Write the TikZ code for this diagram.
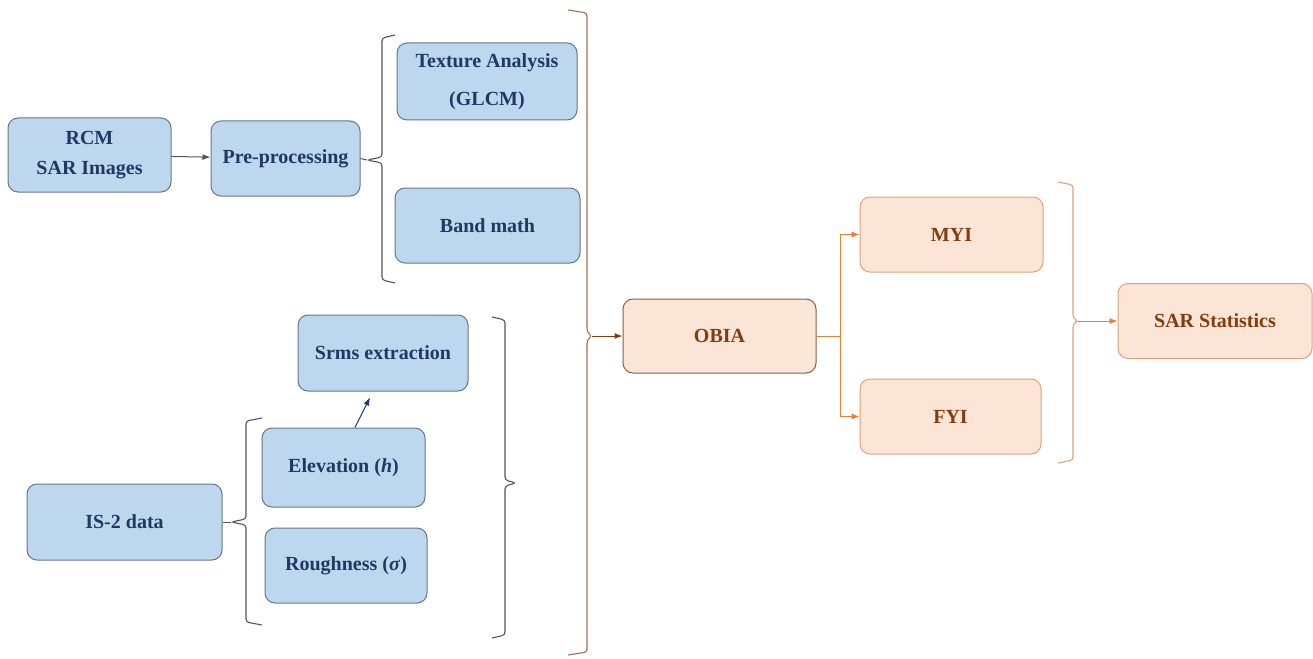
\documentclass[tikz,border=0pt]{standalone}
\usepackage{fontspec}
\setmainfont{Liberation Serif}
\usetikzlibrary{arrows.meta,calc}

\definecolor{boxblue}{HTML}{BDD7EE}
\definecolor{lineblue}{HTML}{66768A}
\definecolor{textblue}{HTML}{1F3864}
\definecolor{boxorange}{HTML}{FBE5D6}
\definecolor{lineorange}{HTML}{DDA47C}
\definecolor{lineobia}{HTML}{8E5F40}
\definecolor{textbrown}{HTML}{843C0C}
\definecolor{arroworange}{HTML}{ED7D31}
\definecolor{bracegray}{HTML}{555555}
\definecolor{bracebrown}{HTML}{A07252}
\definecolor{bracetan}{HTML}{D9A67F}

\begin{document}
\begin{tikzpicture}[x=1pt,y=-1pt,
    >={Latex[length=8pt,width=6pt]},
    bluebox/.style={draw=lineblue,fill=boxblue,rounded corners=10pt,line width=1pt,
        text=textblue,font=\bfseries\fontsize{20}{24}\selectfont,align=center,inner sep=0pt},
    orangebox/.style={draw=lineorange,fill=boxorange,rounded corners=10pt,line width=1pt,
        text=textbrown,font=\bfseries\fontsize{20}{24}\selectfont,align=center,inner sep=0pt},
    brace/.style={line width=1.1pt,rounded corners=3pt}]
    \useasboundingbox (0,0) rectangle (1313,658);

    % SAR branch
    \node[bluebox,minimum width=163pt,minimum height=74pt] (rcm) at (89.5,155) {RCM\\[6pt]SAR Images};
    \node[bluebox,minimum width=149pt,minimum height=75pt] (pre) at (285.5,158.5) {Pre-processing};
    \node[bluebox,minimum width=180pt,minimum height=77pt] (tex) at (487,81.5) {Texture Analysis\\[14pt](GLCM)};
    \node[bluebox,minimum width=185pt,minimum height=75pt] (band) at (487.5,225.5) {Band math};

    % IS-2 branch
    \node[bluebox,minimum width=170pt,minimum height=76pt] (srms) at (383,353) {Srms extraction};
    \node[bluebox,minimum width=163pt,minimum height=79pt] (elev) at (343.5,467.5) {Elevation (\textit{h})};
    \node[bluebox,minimum width=162pt,minimum height=75pt] (rough) at (346,565.5) {Roughness (\textit{σ})};
    \node[bluebox,minimum width=195pt,minimum height=76pt] (is2) at (124.5,522) {IS-2 data};

    % Classification
    \node[orangebox,draw=lineobia,minimum width=193pt,minimum height=74pt] (obia) at (719.5,336) {OBIA};
    \node[orangebox,minimum width=183pt,minimum height=75pt] (myi) at (951.5,234.5) {MYI};
    \node[orangebox,minimum width=181pt,minimum height=75pt] (fyi) at (950.5,416.5) {FYI};
    \node[orangebox,minimum width=194pt,minimum height=75pt] (stat) at (1215,321) {SAR Statistics};

    % Brace tips
    \coordinate (tipA) at (367,160);
    \coordinate (tipB) at (592,336);
    \coordinate (tipC) at (231,522);
    \coordinate (tipD) at (516,483);
    \coordinate (tipE) at (1078,321);

    % Braces
    \draw[brace,bracegray] (395,35) -- (382,38) -- (382,157) -- (tipA) -- (382,163) -- (382,280) -- (395,283);
    \draw[brace,bracebrown] (568,10) -- (587,13) -- (587,332) -- (tipB) -- (587,340) -- (587,652) -- (568,655);
    \draw[brace,bracegray] (262,418) -- (246,421) -- (246,519) -- (tipC) -- (246,525) -- (246,622) -- (262,625);
    \draw[brace,bracegray] (492,317) -- (505,320) -- (505,480) -- (tipD) -- (505,486) -- (505,635) -- (492,638);
    \draw[brace,bracetan] (1058,182) -- (1073,185) -- (1073,318) -- (tipE) -- (1073,324) -- (1073,460) -- (1058,463);

    % Connectors
    \draw[->,bracegray,line width=1pt] (rcm) -- (pre);
    \draw[bracegray,line width=1pt] (pre.east) -- (tipA);
    \draw[bracegray,line width=1pt] (is2.east) -- (tipC);
    \draw[->,textblue,line width=1pt] ($(elev.north)+(11.5,0)$) -- ($(srms.south)+(-13,6)$);
    \draw[->,textbrown,line width=1pt] (tipB) -- (obia.west);
    \draw[->,arroworange,line width=0.9pt] (obia.east) -- ++(24,0) |- (myi.west);
    \draw[->,arroworange,line width=0.9pt] (obia.east) -- ++(24,0) |- (fyi.west);
    \draw[->,arroworange,line width=0.9pt] (tipE) -- (stat.west);
\end{tikzpicture}
\end{document}
